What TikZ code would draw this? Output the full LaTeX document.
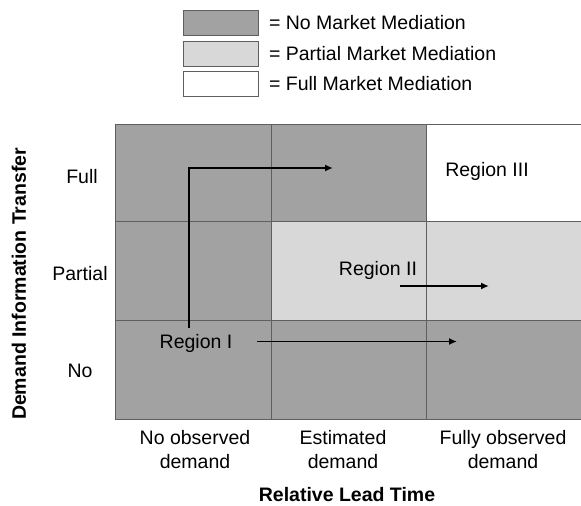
\documentclass[tikz,border=0pt]{standalone}
\usepackage{fontspec}
\setmainfont{Liberation Sans}
\usetikzlibrary{arrows.meta,positioning}
\definecolor{nomed}{RGB}{162,162,162}
\definecolor{partmed}{RGB}{216,216,216}
\definecolor{gridline}{RGB}{95,95,95}

\begin{document}
\begin{tikzpicture}[
			x = 1pt, y = -1pt,
			every node/.style = {font=\fontsize{19.5}{24}\selectfont, inner sep=0pt},
			keybox/.style = {draw=gridline, line width=0.8pt, minimum width=75pt, minimum height=25pt},
			flow/.style = {line width=1.8pt, -{Latex[length=8pt,width=7pt]}}
			]

			\useasboundingbox (0,0) rectangle (581,506);

			% legend
			\node[keybox,fill=nomed]   (k1) at (221,22.5) {};
			\node[keybox,fill=partmed] (k2) at (221,53.5) {};
			\node[keybox,fill=white]   (k3) at (221,84)   {};
			\node[right=10pt of k1] (t1) {= No Market Mediation};
			\node[right=10pt of k2] (t2) {= Partial Market Mediation};
			\node[right=10pt of k3] (t3) {= Full Market Mediation};

			% cells
			\fill[nomed] (115.5,124) rectangle (581,419);
			\fill[white] (426,124) rectangle (581,221.5);
			\fill[partmed] (271,221.5) rectangle (581,320.5);
			\draw[gridline,line width=1pt] (115.5,124) rectangle (581,419);
			\foreach \gx in {271,426} \draw[gridline,line width=1pt] (\gx,124) -- (\gx,419);
			\foreach \gy in {221.5,320.5} \draw[gridline,line width=1pt] (115.5,\gy) -- (581,\gy);

			% regions
			\node (r1) at (196,343) {Region I};
			\node (r2) at (378,270) {Region II};
			\node (r3) at (487,171) {Region III};

			\coordinate (up0) at (189,328);
			\coordinate (up1) at (189,168);
			\coordinate (up2) at (333,168);
			\coordinate (a0) at (257,341.5);
			\coordinate (a1) at (457,341.5);
			\coordinate (b0) at (400,286);
			\coordinate (b1) at (489,286);
			\draw[flow] (up0) -- (up1) -- (up2);
			\draw[flow] (a0) -- (a1);
			\draw[flow] (b0) -- (b1);

			% axes
			\node (full) at (82,177) {Full};
			\node (part) at (80,274) {Partial};
			\node (no) at (80,371) {No};
			\node[rotate=90,font=\fontsize{19.5}{24}\selectfont\bfseries] (ylab) at (19,284) {Demand Information Transfer};

			\node[align=center] (c1) at (195,450) {No observed\\demand};
			\node[align=center] (c2) at (343,450) {Estimated\\demand};
			\node[align=center] (c3) at (503,450) {Fully observed\\demand};
			\node[font=\fontsize{19.5}{24}\selectfont\bfseries] (xlab) at (347,495) {Relative Lead Time};

		\end{tikzpicture}
\end{document}
